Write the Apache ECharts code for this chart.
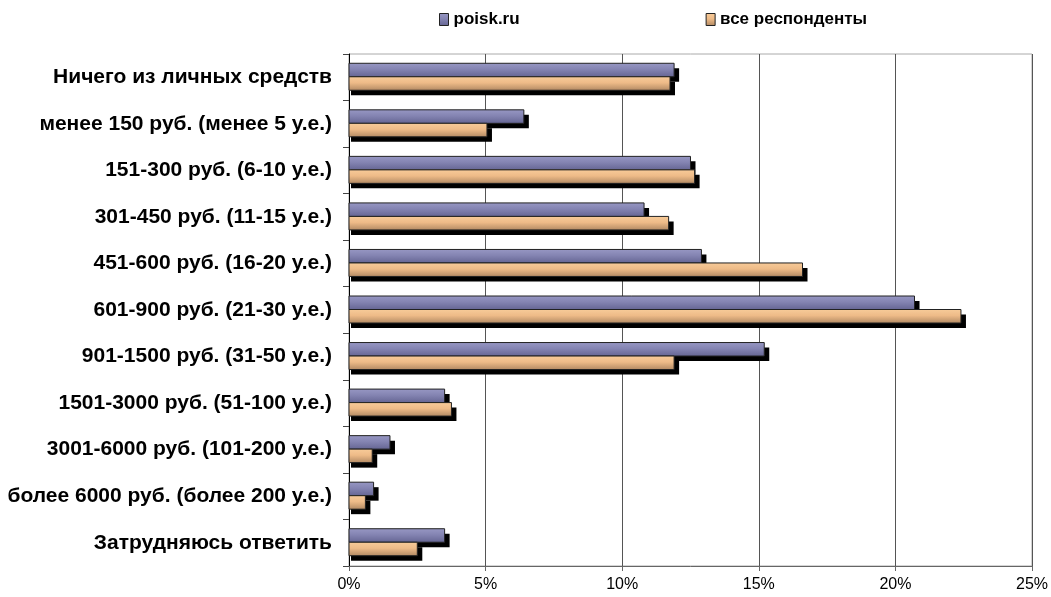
<!DOCTYPE html>
<html>
<head>
<meta charset="utf-8">
<script src="https://cdn.jsdelivr.net/npm/echarts@6/dist/echarts.min.js"></script>
<style>
html,body{margin:0;padding:0;background:#fff;}
#chart{width:1051px;height:597px;}
</style>
</head>
<body>
<div id="chart"></div>
<script>
const categories = [
  'Ничего из личных средств',
  'менее 150 руб. (менее 5 у.е.)',
  '151-300 руб. (6-10 у.е.)',
  '301-450 руб. (11-15 у.е.)',
  '451-600 руб. (16-20 у.е.)',
  '601-900 руб. (21-30 у.е.)',
  '901-1500 руб. (31-50 у.е.)',
  '1501-3000 руб. (51-100 у.е.)',
  '3001-6000 руб. (101-200 у.е.)',
  'более 6000 руб. (более 200 у.е.)',
  'Затрудняюсь ответить'
];
const seriesNames = ['poisk.ru', 'все респонденты'];
const poiskValues = [11.9, 6.4, 12.5, 10.8, 12.9, 20.7, 15.2, 3.5, 1.5, 0.9, 3.5];
const allValues = [11.75, 5.05, 12.65, 11.7, 16.6, 22.4, 11.9, 3.75, 0.85, 0.6, 2.5];
const xTicks = [0, 5, 10, 15, 20, 25];

const font = '"Liberation Sans", Arial, sans-serif';
function grad(top, mid, bottom) {
  return new echarts.graphic.LinearGradient(0, 0, 0, 1, [
    {offset: 0, color: top}, {offset: 0.45, color: mid}, {offset: 1, color: bottom}
  ]);
}
const purple = grad('#9898c4', '#8484b2', '#646492');
const orange = grad('#f8cc9a', '#eebb88', '#b08862');

const BAR_H = 13.5;
function makeRender(fill, slot) {
  return function (params, api) {
    const val = api.value(0);
    const cat = api.value(1);
    const p0 = api.coord([0, cat]);
    const p1 = api.coord([val, cat]);
    const y = slot === 0 ? p0[1] - 14 : p0[1] - 0.5;
    const x0 = p0[0], w = p1[0] - p0[0];
    return {
      type: 'group',
      children: [
        {type: 'rect', shape: {x: x0 + 2, y: y + 5, width: w + 3, height: BAR_H}, style: {fill: '#000'}},
        {type: 'rect', shape: {x: x0, y: y, width: w, height: BAR_H}, style: {fill: fill, stroke: '#222', lineWidth: 1}}
      ]
    };
  };
}

const chart = echarts.init(document.getElementById('chart'), null, {renderer: 'canvas'});
chart.setOption({
  animation: false,
  backgroundColor: '#fff',
  textStyle: {fontFamily: font},
  legend: {
    left: 434, top: 6, itemGap: 186, itemWidth: 9, itemHeight: 12,
    textStyle: {fontFamily: font, fontWeight: 'bold', fontSize: 17, color: '#000'},
    data: [
      {name: seriesNames[0], icon: 'rect', itemStyle: {color: purple, borderColor: '#222', borderWidth: 1}},
      {name: seriesNames[1], icon: 'rect', itemStyle: {color: orange, borderColor: '#222', borderWidth: 1}}
    ]
  },
  grid: {left: 349, right: 16, top: 54, bottom: 31, show: true, borderColor: '#aaa', borderWidth: 1},
  xAxis: {
    type: 'value', min: xTicks[0], max: xTicks[xTicks.length - 1], interval: 5,
    axisLine: {show: true, lineStyle: {color: '#666', width: 1}},
    axisTick: {show: true, length: 5, lineStyle: {color: '#666'}},
    splitLine: {show: true, lineStyle: {color: '#555', width: 1}},
    axisLabel: {formatter: v => v + '%', fontFamily: font, fontSize: 16, color: '#000', margin: 11}
  },
  yAxis: {
    type: 'category', inverse: true, data: categories,
    axisLine: {show: true, lineStyle: {color: '#000', width: 1}},
    axisTick: {show: true, length: 6, lineStyle: {color: '#444'}},
    axisLabel: {fontFamily: font, fontWeight: 'bold', fontSize: 21, color: '#000', margin: 17}
  },
  series: [
    {name: seriesNames[0], type: 'custom', renderItem: makeRender(purple, 0), encode: {x: 0, y: 1},
     itemStyle: {color: purple}, data: poiskValues.map((v, i) => [v, i])},
    {name: seriesNames[1], type: 'custom', renderItem: makeRender(orange, 1), encode: {x: 0, y: 1},
     itemStyle: {color: orange}, data: allValues.map((v, i) => [v, i])}
  ]
});
</script>
</body>
</html>
